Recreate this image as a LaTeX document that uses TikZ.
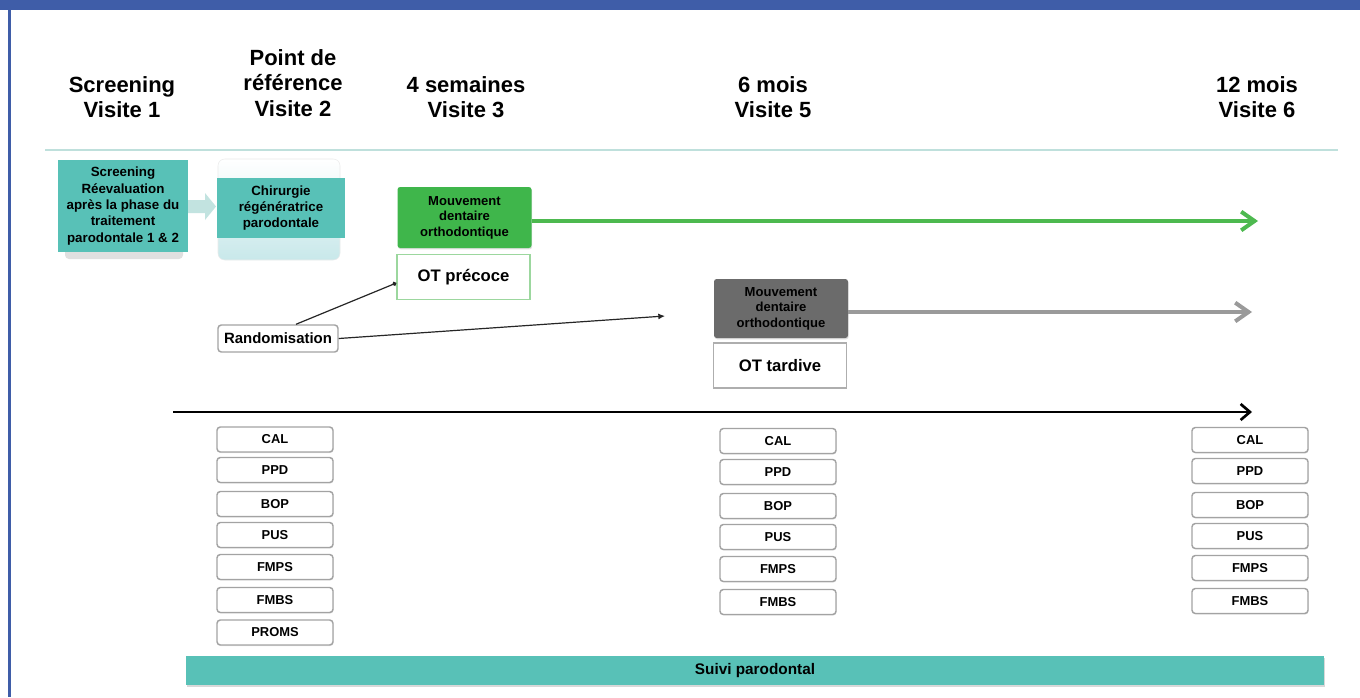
\documentclass[tikz,border=0pt]{standalone}
\usepackage{fontspec}
\setmainfont{Liberation Sans}
\usetikzlibrary{arrows.meta,shadows,calc}
\definecolor{frameblue}{HTML}{3F5DA8}
\definecolor{tealfill}{HTML}{58C1B7}
\definecolor{tealpale}{HTML}{C2E3E0}
\definecolor{tealline}{HTML}{BFE0DC}
\definecolor{chirbot}{HTML}{C8E8EA}
\definecolor{greenfill}{HTML}{3FB64B}
\definecolor{greenline}{HTML}{4DB94F}
\definecolor{greenedge}{HTML}{9CD79E}
\definecolor{darkfill}{HTML}{6B6B6B}
\definecolor{greyline}{HTML}{9A9A9A}
\definecolor{measgrey}{HTML}{A3A3A3}

\begin{document}
\begin{tikzpicture}[x=0.75pt,y=-0.75pt,
  hdr/.style={align=center,font=\fontsize{16.5}{18.9}\selectfont\bfseries},
  tealbox/.style={fill=tealfill,align=center,inner sep=0pt,
    font=\fontsize{10}{11.8}\selectfont\bfseries},
  movebox/.style={rounded corners=2pt,align=center,inner sep=0pt,
    minimum width=134*0.75pt,
    font=\fontsize{9.8}{11.6}\selectfont\bfseries,
    drop shadow={shadow xshift=0.5pt,shadow yshift=-1pt,opacity=0.25}},
  otbox/.style={fill=white,line width=1pt,inner sep=0pt,
    minimum width=133*0.75pt,minimum height=45*0.75pt,
    font=\fontsize{12.5}{14}\selectfont\bfseries},
  measure/.style={draw=measgrey,line width=1.1pt,rounded corners=2.5pt,
    fill=white,inner sep=0pt,minimum width=116*0.75pt,minimum height=25*0.75pt,
    font=\fontsize{9.7}{10}\selectfont\bfseries,
    drop shadow={shadow xshift=0.4pt,shadow yshift=-0.8pt,opacity=0.2}}]

\useasboundingbox (0,0) rectangle (1360,697);
\fill[white] (0,0) rectangle (1360,697);

% frame
\fill[frameblue] (0,0) rectangle (1360,10);
\fill[frameblue] (7.5,0) rectangle (11,697);

% column headings
\node[hdr] (h1) at (122,97.5) {Screening\\Visite 1};
\node[hdr] (h2) at (293,83) {Point de\\référence\\Visite 2};
\node[hdr] (h3) at (466,97.5) {4 semaines\\Visite 3};
\node[hdr] (h5) at (773,97.5) {6 mois\\Visite 5};
\node[hdr] (h6) at (1257,97.5) {12 mois\\Visite 6};

% separator under headings
\draw[tealline,line width=1.6pt] (45,150) -- (1338,150);

% screening step
\fill[black!12,rounded corners=3pt] (65,168) rectangle (183,259);
\node[tealbox,minimum width=130*0.75pt,minimum height=92*0.75pt,
  font=\fontsize{10}{12.3}\selectfont\bfseries] (scr) at (123,206)
  {Screening\\Réevaluation\\après la phase du\\traitement\\parodontale 1 \& 2};

% surgery step
\shade[top color=white,bottom color=chirbot,rounded corners=5pt,draw=black!8]
  (218,159) rectangle (340,260);
\node[tealbox,minimum width=128*0.75pt,minimum height=60*0.75pt] (chir) at (281,208)
  {Chirurgie\\régénératrice\\parodontale};

% block arrow between the two steps
\fill[tealpale] (188,200) -- (205,200) -- (205,193) -- (216,206.5) -- (205,220)
  -- (205,213) -- (188,213) -- cycle;

% early orthodontic arm
\node[movebox,fill=greenfill,minimum height=61*0.75pt] (mv1) at (464.5,217.5)
  {Mouvement\\dentaire\\orthodontique};
\node[otbox,draw=greenedge] (ot1) at (463.5,277) {OT précoce};

% late orthodontic arm
\node[movebox,fill=darkfill,minimum height=59*0.75pt] (mv2) at (781,308.5)
  {Mouvement\\dentaire\\orthodontique};
\node[otbox,draw=greyline!80] (ot2) at (780,365.5) {OT tardive};

% randomisation
\node[draw=measgrey,line width=1.1pt,rounded corners=2.5pt,fill=white,
  inner sep=0pt,minimum width=120*0.75pt,minimum height=27*0.75pt,
  font=\fontsize{11.2}{12}\selectfont\bfseries] (rand) at (278,338.5) {Randomisation};

\coordinate (gEnd) at (1258,221);
\coordinate (tEnd) at (1252,312);
\coordinate (rEnd) at (665,316);
\coordinate (axS) at (173,412);
\coordinate (axE) at (1252,412);

\draw[greenline,line width=3pt,-{Straight Barb[length=10pt,width=14pt]}]
  (mv1.east |- gEnd) -- (gEnd);
\draw[greyline,line width=3pt,-{Straight Barb[length=10pt,width=14pt]}]
  (mv2.east |- tEnd) -- (tEnd);

\draw[black!85,line width=0.9pt,-{Circle[length=3.2pt]}]
  ($(rand.north)+(18,0)$) -- ($(ot1.west)+(0,6)$);
\draw[black!85,line width=0.9pt,-{Latex[length=5pt,width=4.5pt]}]
  (rand.east) -- (rEnd);

% time axis
\draw[black,line width=2pt,-{Straight Barb[length=7pt,width=12pt]}] (axS) -- (axE);

% outcome measures at visit 2
\node[measure] (a1) at (275,439.5) {CAL};
\node[measure] (a2) at (275,470) {PPD};
\node[measure] (a3) at (275,504) {BOP};
\node[measure] (a4) at (275,535) {PUS};
\node[measure] (a5) at (275,567) {FMPS};
\node[measure] (a6) at (275,600) {FMBS};
\node[measure] (a7) at (275,632.5) {PROMS};

% outcome measures at visit 5
\node[measure] (b1) at (778,441) {CAL};
\node[measure] (b2) at (778,472) {PPD};
\node[measure] (b3) at (778,506) {BOP};
\node[measure] (b4) at (778,537) {PUS};
\node[measure] (b5) at (778,569) {FMPS};
\node[measure] (b6) at (778,602) {FMBS};

% outcome measures at visit 6
\node[measure] (c1) at (1250,440) {CAL};
\node[measure] (c2) at (1250,471) {PPD};
\node[measure] (c3) at (1250,505) {BOP};
\node[measure] (c4) at (1250,536) {PUS};
\node[measure] (c5) at (1250,568) {FMPS};
\node[measure] (c6) at (1250,601) {FMBS};

% follow-up bar
\node[fill=tealfill,inner sep=0pt,minimum width=1138*0.75pt,minimum height=29*0.75pt,
  font=\fontsize{11.5}{12}\selectfont\bfseries,
  drop shadow={shadow xshift=0.5pt,shadow yshift=-1.2pt,opacity=0.3}]
  (suivi) at (755,670.5) {Suivi parodontal};
\end{tikzpicture}
\end{document}
